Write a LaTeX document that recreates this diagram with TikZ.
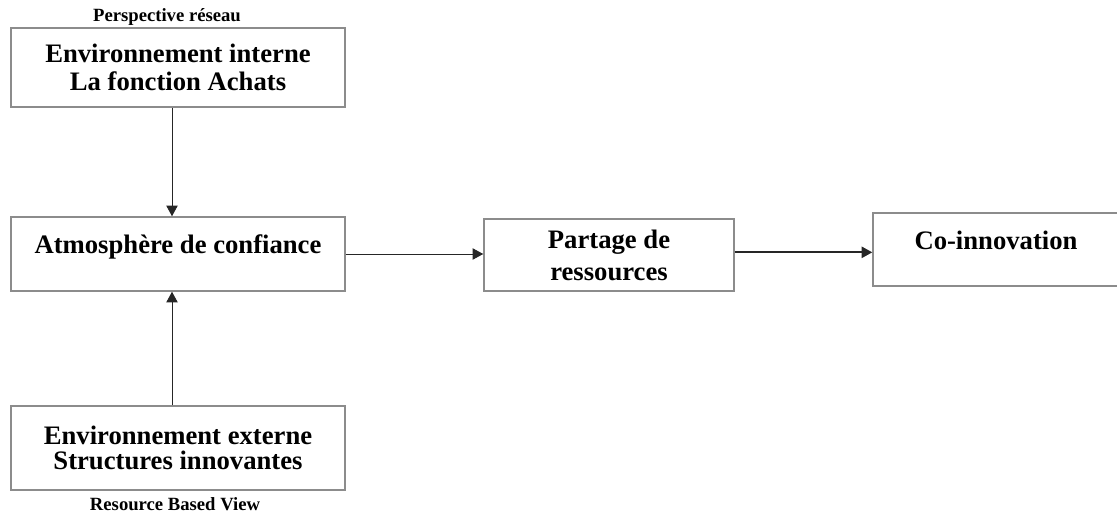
\documentclass[tikz,border=0pt]{standalone}
\usepackage{fontspec}
\setmainfont{Liberation Serif}
\usetikzlibrary{arrows.meta}
\begin{document}
\begin{tikzpicture}[x=0.75pt, y=-0.75pt]
\tikzset{boite/.style={draw=black!45, line width=1.1pt, rectangle, align=center, inner sep=0pt, font=\bfseries\fontsize{20}{21}\selectfont}}
\tikzset{fleche/.style={draw=black!85, line width=0.7pt, -{Triangle[length=8pt, width=8.5pt]}}}
\tikzset{petit/.style={inner sep=0pt, font=\bfseries\fontsize{14}{16}\selectfont}}
\useasboundingbox (0,0) rectangle (1117,513);
\clip (0,0) rectangle (1117,513);
\node[boite, minimum width=250.5pt, minimum height=59.25pt] (I) at (178,67.5) {Environnement interne\\La fonction Achats};
\node[boite, minimum width=250.5pt, minimum height=55.5pt, text height=10pt, text depth=10pt] (C) at (178,254) {Atmosphère de confiance};
\node[boite, minimum width=250.5pt, minimum height=63pt, font=\bfseries\fontsize{20}{19}\selectfont] (E) at (178,448) {Environnement externe\\Structures innovantes};
\node[boite, minimum width=187.5pt, minimum height=54pt, font=\bfseries\fontsize{20}{24}\selectfont] (P) at (609,255) {Partage de\\ressources};
\node[boite, minimum width=184.5pt, minimum height=54.75pt, text height=10pt, text depth=10pt] (CO) at (996,249.5) {Co-innovation};
\node[petit] (persp) at (167,17) {Perspective réseau};
\node[petit] (rbv) at (175,504) {Resource Based View};
\coordinate (axe) at (172,0);
\draw[fleche] (I.south -| axe) -- (C.north -| axe);
\draw[fleche] (E.north -| axe) -- (C.south -| axe);
\draw[fleche] (C.east) -- (C.east -| P.west);
\draw[fleche, line width=1.3pt] ([yshift=2pt]P.east) -- ([yshift=2pt]P.east -| CO.west);
\end{tikzpicture}
\end{document}
